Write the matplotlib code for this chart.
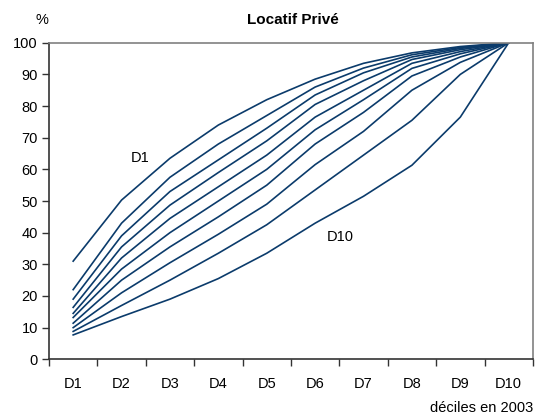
import numpy as np
import matplotlib.pyplot as plt

plt.rcParams['font.family'] = ['Liberation Sans', 'DejaVu Sans']

# categories (deciles in 2003)
deciles = ['D1', 'D2', 'D3', 'D4', 'D5', 'D6', 'D7', 'D8', 'D9', 'D10']

# cumulative share (%) for each curve, from D1 (top) to D10 (bottom)
curve_d1 = [31.0, 50.3, 63.5, 74.0, 82.0, 88.5, 93.5, 96.8, 98.8, 100]
curve_d2 = [22.0, 43.0, 57.5, 68.0, 77.0, 86.0, 92.0, 96.2, 98.5, 100]
curve_d3 = [19.0, 39.0, 53.0, 63.0, 73.0, 83.5, 90.5, 95.5, 98.2, 100]
curve_d4 = [16.4, 35.5, 48.7, 59.0, 69.0, 80.5, 88.0, 94.7, 97.8, 100]
curve_d5 = [14.5, 32.0, 44.5, 54.5, 64.5, 76.5, 85.0, 93.5, 97.2, 100]
curve_d6 = [13.2, 28.5, 40.0, 50.0, 60.0, 72.5, 82.0, 91.9, 96.5, 100]
curve_d7 = [11.4, 25.0, 35.5, 45.0, 55.0, 68.0, 78.0, 89.5, 95.5, 100]
curve_d8 = [10.0, 21.0, 30.5, 39.5, 49.0, 61.5, 72.0, 85.0, 93.8, 100]
curve_d9 = [8.8, 17.0, 25.0, 33.5, 42.5, 53.5, 64.5, 75.5, 90.0, 100]
curve_d10 = [7.7, 13.5, 19.0, 25.5, 33.5, 43.0, 51.5, 61.3, 76.5, 100]

curves = [curve_d1, curve_d2, curve_d3, curve_d4, curve_d5,
          curve_d6, curve_d7, curve_d8, curve_d9, curve_d10]

fig = plt.figure(figsize=(5.46, 4.19), dpi=100)
ax = fig.add_axes([0.0897, 0.1425, 0.8863, 0.7555])

x = np.arange(len(deciles))
for c in curves:
    ax.plot(x, c, color='#0b3b6b', lw=1.2)

ax.set_xlim(-0.5, len(deciles) - 0.5)
ax.set_ylim(0, 100)
ax.set_yticks(np.arange(0, 101, 10))

# category boundaries as tick marks, labels centred on categories
ax.set_xticks(np.arange(-0.5, len(deciles), 1.0))
ax.set_xticklabels([])
ax.set_xticks(x, minor=True)
ax.set_xticklabels(deciles, minor=True)
ax.tick_params(axis='x', which='minor', length=0, pad=13, labelsize=10.5)
ax.tick_params(axis='x', which='major', length=5, width=1, color='#333333')
ax.tick_params(axis='y', length=5, width=1, color='#333333', labelsize=10.5, pad=3)

for s in ['left', 'bottom']:
    ax.spines[s].set_color('#333333')
    ax.spines[s].set_linewidth(1.2)
for s in ['top', 'right']:
    ax.spines[s].set_color('#808080')
    ax.spines[s].set_linewidth(1.2)

ax.text(1.38, 63.6, 'D1', fontsize=10.5, ha='center', va='center')
ax.text(5.52, 38.6, 'D10', fontsize=10.5, ha='center', va='center')

fig.text(0.537, 0.952, 'Locatif Privé', fontsize=11, fontweight='bold',
         ha='center', va='center')
fig.text(0.077, 0.952, '%', fontsize=10.5, ha='center', va='center')
fig.text(0.976, 0.027, 'déciles en 2003', fontsize=10.5, ha='right', va='center')

fig.savefig('out.png', dpi=100)
